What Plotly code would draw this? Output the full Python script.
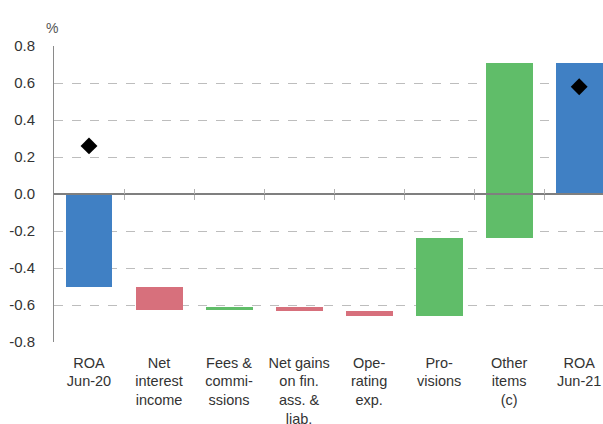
import plotly.graph_objects as go

categories = ["ROA<br>Jun-20", "Net<br>interest<br>income", "Fees &<br>commi-<br>ssions",
              "Net gains<br>on fin.<br>ass. &<br>liab.", "Ope-<br>rating<br>exp.",
              "Pro-<br>visions", "Other<br>items<br>(c)", "ROA<br>Jun-21"]
bar_start = [0.0, -0.50, -0.625, -0.61, -0.632, -0.66, -0.238, 0.0]
bar_end = [-0.50, -0.625, -0.61, -0.632, -0.66, -0.238, 0.708, 0.708]
bar_kind = ["total", "down", "up", "down", "down", "up", "up", "total"]
diamond_cats = [0, 7]
diamond_vals = [0.26, 0.58]
y_ticks = [-0.8, -0.6, -0.4, -0.2, 0.0, 0.2, 0.4, 0.6, 0.8]
y_ticktext = ["-0.8", "-0.6", "-0.4", "-0.2", "0.0", "0.2", "0.4", "0.6", "0.8"]

kind_colors = {"total": "#4080C4", "up": "#60BD69", "down": "#D7707C"}

x_idx = list(range(len(categories)))
fig = go.Figure()
fig.add_trace(go.Bar(
    x=x_idx,
    y=[e - s for s, e in zip(bar_start, bar_end)],
    base=bar_start,
    width=0.67,
    marker=dict(color=[kind_colors[k] for k in bar_kind], line=dict(width=0)),
    showlegend=False,
))
fig.add_trace(go.Scatter(
    x=diamond_cats, y=diamond_vals, mode="markers",
    marker=dict(symbol="diamond", size=13, color="black"),
    showlegend=False,
))
# invisible traces to enable the zero-line tick axes
fig.add_trace(go.Scatter(x=[0], y=[0], xaxis="x2", mode="markers",
                         marker=dict(opacity=0), showlegend=False, hoverinfo="skip"))
fig.add_trace(go.Scatter(x=[0], y=[0], xaxis="x3", mode="markers",
                         marker=dict(opacity=0), showlegend=False, hoverinfo="skip"))

xr = [-0.5, 7.34]
boundaries = [i + 0.5 for i in range(len(categories) - 1)]
font = "Liberation Sans, Arial, sans-serif"

fig.update_layout(
    width=603, height=424,
    margin=dict(l=54, r=0, t=46, b=82, autoexpand=False),
    paper_bgcolor="white", plot_bgcolor="white",
    font=dict(family=font, size=14.5, color="#333333"),
    bargap=0,
    xaxis=dict(
        range=xr, tickmode="array", tickvals=x_idx, ticktext=categories,
        showgrid=False, zeroline=False, showline=False, ticks="",
        tickfont=dict(size=14.5, color="#333333"), ticklabelstandoff=10,
        automargin=False,
    ),
    xaxis2=dict(
        range=xr, overlaying="x", anchor="free", position=0.5,
        showline=True, linecolor="#7f7f7f", linewidth=2,
        tickmode="array", tickvals=boundaries, ticks="outside", ticklen=5,
        tickcolor="#b0b0b0", tickwidth=1, showticklabels=False, showgrid=False,
        zeroline=False, automargin=False,
    ),
    xaxis3=dict(
        range=xr, overlaying="x", anchor="free", position=0.5,
        showline=False,
        tickmode="array", tickvals=boundaries, ticks="inside", ticklen=5,
        tickcolor="#b0b0b0", tickwidth=1, showticklabels=False, showgrid=False,
        zeroline=False, automargin=False,
    ),
    yaxis=dict(
        range=[-0.8, 0.8], tickmode="array", tickvals=y_ticks, ticktext=y_ticktext,
        showgrid=True, gridcolor="#bdbdbd", griddash="dash", gridwidth=1,
        zeroline=False, showline=True, linecolor="#8a8a8a", linewidth=1,
        ticks="", tickfont=dict(size=15, color="#333333"), ticklabelstandoff=15,
        automargin=False,
    ),
    annotations=[dict(text="%", xref="paper", yref="paper", x=-0.003, y=1.0,
                      xanchor="center", yanchor="bottom", yshift=8, showarrow=False,
                      font=dict(size=14, color="#555555"))],
)

fig.write_html("out.html", config={"displayModeBar": False},
               post_script="document.body.style.margin='0';document.body.style.overflow='hidden';")
